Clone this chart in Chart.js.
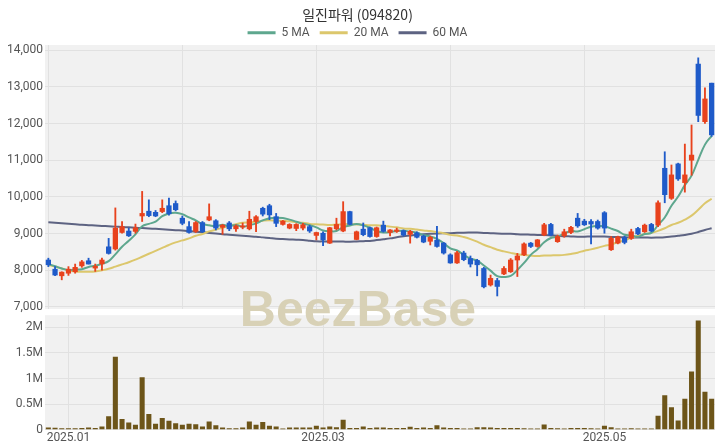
<!DOCTYPE html>
<html>
<head>
<meta charset="utf-8">
<script src="https://cdn.jsdelivr.net/npm/chart.js@4.4.1/dist/chart.umd.min.js"></script>
<style>
  html, body { margin: 0; padding: 0; background: #fff; }
  #wrap { position: relative; width: 720px; height: 448px; overflow: hidden; }
  #priceBox { position: absolute; left: 0; top: 0; width: 720px; height: 320px; }
  #volBox { position: absolute; left: 0; top: 306px; width: 720px; height: 142px; }
  #mark { position: absolute; left: -2px; width: 720px; top: 280px; line-height: 50px; text-align: center;
          font: bold 50px "Liberation Sans", Arial, sans-serif; color: #d8d1b6; pointer-events: none; }
</style>
</head>
<body>
<div id="wrap">
  <div id="priceBox"><canvas id="priceChart"></canvas></div>
  <div id="volBox"><canvas id="volumeChart"></canvas></div>
  <div id="mark">BeezBase</div>
</div>
<script>
// trading days, 2024-12-26 .. 2025-05-28
const dates = [
  '2024-12-26','2024-12-27','2024-12-30',
  '2025-01-02','2025-01-03','2025-01-06','2025-01-07','2025-01-08','2025-01-09','2025-01-10','2025-01-13','2025-01-14','2025-01-15',
  '2025-01-16','2025-01-17','2025-01-20','2025-01-21','2025-01-22','2025-01-23','2025-01-24','2025-01-31',
  '2025-02-03','2025-02-04','2025-02-05','2025-02-06','2025-02-07','2025-02-10','2025-02-11','2025-02-12','2025-02-13','2025-02-14',
  '2025-02-17','2025-02-18','2025-02-19','2025-02-20','2025-02-21','2025-02-24','2025-02-25','2025-02-26','2025-02-27','2025-02-28',
  '2025-03-04','2025-03-05','2025-03-06','2025-03-07','2025-03-10','2025-03-11','2025-03-12','2025-03-13','2025-03-14','2025-03-17',
  '2025-03-18','2025-03-19','2025-03-20','2025-03-21','2025-03-24','2025-03-25','2025-03-26','2025-03-27','2025-03-28','2025-03-31',
  '2025-04-01','2025-04-02','2025-04-03','2025-04-04','2025-04-07','2025-04-08','2025-04-09','2025-04-10','2025-04-11','2025-04-14',
  '2025-04-15','2025-04-16','2025-04-17','2025-04-18','2025-04-21','2025-04-22','2025-04-23','2025-04-24','2025-04-25','2025-04-28',
  '2025-04-29','2025-04-30','2025-05-02','2025-05-07','2025-05-08','2025-05-09','2025-05-12','2025-05-13','2025-05-14','2025-05-15',
  '2025-05-16','2025-05-19','2025-05-20','2025-05-21','2025-05-22','2025-05-23','2025-05-26','2025-05-27','2025-05-28'
];

const opens = [
  8280, 8030, 7850, 7920, 7960, 8120, 8260, 8060, 8175, 8640,
  8580, 9030, 9070, 9060, 9480, 9610, 9580, 9600, 9760, 9820,
  9420, 9190, 9060, 9300, 9370, 9350, 9170, 9290, 9130, 9180,
  9130, 9330, 9690, 9760, 9460, 9250, 9150, 9140, 9150, 9190,
  8950, 9010, 8740, 9130, 9070, 9600, 8840, 9120, 9160, 8920,
  9230, 9030, 9060, 9080, 8980, 9020, 8930, 8790, 8820, 8740,
  8420, 8200, 8470, 8320, 8270, 8050, 7600, 7720, 7900, 7960,
  8280, 8420, 8740, 8650, 8960, 9250, 8780, 8940, 9030, 9420,
  9340, 9330, 9330, 9570, 8560, 8740, 8890, 8870, 9140, 9050,
  9250, 9230, 10780, 9960, 10900, 10390, 11000, 13620, 12050, 13100
];
const highs = [
  8330, 8100, 7960, 8100, 8170, 8270, 8330, 8170, 8330, 8870,
  9700, 9330, 9150, 9260, 10150, 9920, 9630, 9920, 9970, 9890,
  9480, 9330, 9330, 9330, 9810, 9380, 9250, 9330, 9240, 9290,
  9610, 9490, 9720, 9800, 9550, 9360, 9270, 9270, 9280, 9230,
  9040, 9050, 9170, 9420, 9870, 9610, 9070, 9290, 9180, 9180,
  9340, 9110, 9150, 9100, 9090, 9050, 8960, 8930, 9200, 8760,
  8450, 8520, 8520, 8390, 8300, 8080, 7870, 7780, 8100, 8320,
  8460, 8750, 8760, 8840, 9280, 9280, 8960, 9120, 9200, 9550,
  9390, 9380, 9370, 9600, 8920, 8930, 8930, 9120, 9170, 9260,
  9280, 9890, 11230, 10870, 10920, 11440, 11960, 13790, 12970, 13100
];
const lows = [
  8100, 7850, 7740, 7860, 7920, 8080, 8170, 7970, 8000, 8440,
  8550, 9010, 8920, 9010, 9330, 9460, 9460, 9570, 9500, 9620,
  9240, 9010, 9030, 9030, 9350, 9100, 8980, 9080, 9060, 9130,
  9100, 9050, 9480, 9380, 9190, 9230, 9130, 9080, 9100, 9030,
  8830, 8670, 8730, 9100, 9050, 9240, 8830, 8940, 8900, 8900,
  9040, 8940, 9030, 8930, 8740, 8880, 8750, 8690, 8630, 8440,
  8190, 8190, 8260, 8090, 7850, 7520, 7570, 7300, 7880, 7940,
  7830, 8400, 8620, 8630, 8940, 8940, 8760, 8900, 9000, 9170,
  9220, 8720, 9120, 9010, 8540, 8720, 8720, 8840, 8970, 9030,
  9050, 9190, 9840, 9930, 10450, 10130, 10590, 12050, 12000, 11650
];
const closes = [
  8150, 7870, 7950, 8030, 8080, 8230, 8170, 8110, 8280, 8460,
  9150, 9190, 8940, 9160, 9550, 9490, 9480, 9690, 9540, 9650,
  9280, 9030, 9300, 9050, 9460, 9150, 9230, 9130, 9210, 9210,
  9390, 9460, 9530, 9510, 9280, 9340, 9250, 9250, 9240, 9070,
  9030, 8830, 9160, 9250, 9600, 9250, 9050, 8970, 8920, 9160,
  9060, 9100, 9100, 8960, 9060, 8900, 8770, 8900, 8650, 8470,
  8200, 8480, 8290, 8170, 8150, 7550, 7780, 7560, 8050, 8280,
  8390, 8720, 8650, 8830, 9240, 8960, 8920, 9050, 9170, 9210,
  9240, 9260, 9150, 9150, 8870, 8910, 8760, 9050, 8990, 9230,
  9070, 9840, 10060, 10600, 10490, 10600, 11140, 12220, 12670, 11690
];
const ma5 = [
  8170, 8110, 8050, 8010, 8020, 8030, 8090, 8125, 8175, 8250,
  8435, 8640, 8805, 8980, 9200, 9265, 9325, 9475, 9550, 9570,
  9530, 9440, 9360, 9260, 9225, 9200, 9240, 9205, 9235, 9185,
  9230, 9280, 9360, 9420, 9435, 9425, 9380, 9325, 9270, 9230,
  9170, 9085, 9065, 9070, 9175, 9220, 9260, 9225, 9160, 9070,
  9030, 9040, 9070, 9075, 9055, 9025, 8960, 8920, 8855, 8740,
  8600, 8540, 8420, 8320, 8260, 8130, 7990, 7840, 7820, 7845,
  8010, 8200, 8420, 8575, 8765, 8880, 8920, 9000, 9070, 9060,
  9120, 9185, 9205, 9200, 9135, 9070, 8970, 8950, 8915, 8990,
  9020, 9235, 9440, 9760, 10010, 10320, 10580, 11010, 11425, 11665
];
const ma20 = [
  8150, 8100, 8050, 8000, 7970, 7960, 7960, 7970, 8000, 8040,
  8100, 8160, 8220, 8290, 8370, 8450, 8530, 8610, 8690, 8760,
  8815, 8870, 8940, 8990, 9060, 9105, 9160, 9210, 9255, 9295,
  9305, 9320, 9350, 9365, 9350, 9345, 9335, 9310, 9295, 9265,
  9255, 9245, 9235, 9245, 9255, 9260, 9250, 9240, 9230, 9225,
  9210, 9190, 9170, 9140, 9130, 9110, 9085, 9070, 9040, 9010,
  8965, 8950, 8905, 8850, 8780, 8695, 8630, 8560, 8515, 8475,
  8440, 8420, 8400, 8390, 8400, 8405, 8410, 8420, 8445, 8480,
  8535, 8570, 8615, 8665, 8700, 8770, 8815, 8890, 8940, 8985,
  9020, 9075, 9145, 9235, 9295, 9380, 9490, 9650, 9825, 9950
];
const ma60 = [
  9310, 9296, 9282, 9268, 9254, 9240, 9230, 9220, 9210, 9200,
  9190, 9180, 9170, 9160, 9150, 9140, 9130, 9118, 9106, 9094,
  9082, 9070, 9053, 9036, 9019, 9002, 8985, 8971, 8957, 8943,
  8929, 8915, 8897, 8879, 8860, 8851, 8842, 8833, 8825, 8808,
  8790, 8788, 8786, 8784, 8782, 8780, 8787, 8794, 8800, 8823,
  8846, 8870, 8900, 8930, 8950, 8970, 8982, 8994, 9005, 9009,
  9010, 9020, 9026, 9028, 9029, 9018, 9011, 9002, 8998, 8995,
  8983, 8975, 8970, 8964, 8959, 8950, 8941, 8930, 8924, 8917,
  8916, 8920, 8918, 8919, 8910, 8906, 8898, 8896, 8893, 8893,
  8888, 8894, 8903, 8921, 8941, 8962, 8994, 9043, 9100, 9144
];
const volumes = [
  33000, 30000, 20000, 20000, 20000, 27000, 33000, 27000, 53000, 253000,
  1420000, 200000, 133000, 87000, 1020000, 300000, 107000, 220000, 167000, 120000,
  87000, 107000, 100000, 53000, 153000, 80000, 33000, 20000, 20000, 33000,
  153000, 87000, 140000, 67000, 53000, 13000, 33000, 33000, 33000, 33000,
  67000, 33000, 53000, 40000, 187000, 27000, 27000, 53000, 27000, 33000,
  33000, 27000, 27000, 27000, 47000, 27000, 33000, 27000, 80000, 33000,
  27000, 27000, 13000, 13000, 40000, 40000, 33000, 27000, 27000, 27000,
  27000, 20000, 13000, 13000, 93000, 27000, 20000, 13000, 27000, 27000,
  27000, 20000, 13000, 67000, 40000, 13000, 13000, 20000, 13000, 13000,
  13000, 267000, 667000, 433000, 173000, 600000, 1130000, 2130000, 733000, 600000
];

const priceTicks = [7000, 8000, 9000, 10000, 11000, 12000, 13000, 14000];
const volumeTicks = [0, 500000, 1000000, 1500000, 2000000];
const volumeTickLabels = ['0', '0.5M', '1M', '1.5M', '2M'];
const monthTickDates = ['2025-01-02', '2025-03-04', '2025-05-02'];
const monthTickLabels = ['2025.01', '2025.03', '2025.05'];

const UP = '#e8421d';
const DOWN = '#1f5bc9';
const GRID = '#e1e1e1';
const TEXT = '#555';
const FONT = 'Roboto, "Noto Sans", sans-serif';

const plotBackground = {
  id: 'plotBackground',
  beforeDraw(chart) {
    const { ctx, chartArea: a } = chart;
    ctx.save();
    ctx.fillStyle = '#f1f1f1';
    ctx.fillRect(a.left, a.top, a.right - a.left, a.bottom - a.top);
    ctx.restore();
  }
};

const candleColors = closes.map((c, i) => (c >= opens[i] ? UP : DOWN));

new Chart(document.getElementById('priceChart'), {
  type: 'bar',
  data: {
    labels: dates,
    datasets: [
      { type: 'line', label: '5 MA', data: ma5, borderColor: '#5ea78e', backgroundColor: '#5ea78e',
        borderWidth: 2, pointRadius: 0, tension: 0.4, order: 1 },
      { type: 'line', label: '20 MA', data: ma20, borderColor: '#dcc76c', backgroundColor: '#dcc76c',
        borderWidth: 2, pointRadius: 0, tension: 0.4, order: 1 },
      { type: 'line', label: '60 MA', data: ma60, borderColor: '#5d6382', backgroundColor: '#5d6382',
        borderWidth: 2, pointRadius: 0, tension: 0.4, order: 1 },
      { label: 'wick', data: dates.map((d, i) => [lows[i], highs[i]]), backgroundColor: candleColors,
        barThickness: 1.2, grouped: false, order: 0 },
      { label: 'body', data: dates.map((d, i) => [opens[i], closes[i]]), backgroundColor: candleColors,
        barThickness: 4.6, grouped: false, order: 0 }
    ]
  },
  options: {
    responsive: true,
    maintainAspectRatio: false,
    animation: false,
    layout: { padding: { left: 0, right: 5, top: 0, bottom: 11 } },
    plugins: {
      tooltip: { enabled: false },
      title: {
        display: true,
        text: '일진파워 (094820)',
        color: '#333',
        font: { size: 14, weight: 'normal', family: '"Noto Sans CJK KR", "Noto Sans", sans-serif' },
        padding: { top: 6, bottom: -6 }
      },
      legend: {
        maxHeight: 28.2,
        labels: {
          boxWidth: 28,
          boxHeight: 3,
          padding: 10,
          color: TEXT,
          font: { size: 12, family: FONT },
          filter: item => item.datasetIndex < 3,
          generateLabels: chart => Chart.defaults.plugins.legend.labels.generateLabels(chart)
            .map(l => Object.assign(l, { lineWidth: 0 }))
        }
      }
    },
    scales: {
      x: {
        offset: true,
        grid: { offset: false, drawTicks: false, color: c => (c.index % 20 === 0 ? GRID : 'transparent') },
        ticks: { display: false },
        border: { display: false }
      },
      y: {
        min: 6945,
        max: 14140,
        afterBuildTicks: s => { s.ticks = priceTicks.map(v => ({ value: v })); },
        afterFit: s => { s.width = 45; },
        grid: { color: GRID, drawTicks: false },
        border: { display: false },
        ticks: { padding: 2, color: TEXT, font: { size: 12, family: FONT },
                 callback: v => v.toLocaleString('en-US') }
      }
    }
  },
  plugins: [plotBackground]
});

new Chart(document.getElementById('volumeChart'), {
  type: 'bar',
  data: {
    labels: dates,
    datasets: [
      { label: 'Volume', data: volumes, backgroundColor: '#6d5519', barThickness: 4.4 }
    ]
  },
  options: {
    responsive: true,
    maintainAspectRatio: false,
    animation: false,
    layout: { padding: { left: 0, right: 5, top: 8, bottom: 2 } },
    plugins: { legend: { display: false }, tooltip: { enabled: false } },
    scales: {
      x: {
        grid: { offset: false, drawTicks: false,
                color: c => (monthTickDates.includes(dates[c.index]) ? GRID : 'transparent') },
        ticks: {
          autoSkip: false, maxRotation: 0, padding: 1, color: TEXT, font: { size: 12, family: FONT },
          callback: (v, i) => {
            const k = monthTickDates.indexOf(dates[i]);
            return k >= 0 ? monthTickLabels[k] : '';
          }
        },
        border: { display: false }
      },
      y: {
        min: 0,
        max: 2240000,
        afterBuildTicks: s => { s.ticks = volumeTicks.map(v => ({ value: v })); },
        afterFit: s => { s.width = 45; },
        grid: { color: GRID, drawTicks: false },
        border: { display: false },
        ticks: { padding: 2, color: TEXT, font: { size: 12, family: FONT },
                 callback: v => volumeTickLabels[volumeTicks.indexOf(v)] }
      }
    }
  },
  plugins: [plotBackground]
});
</script>
</body>
</html>
